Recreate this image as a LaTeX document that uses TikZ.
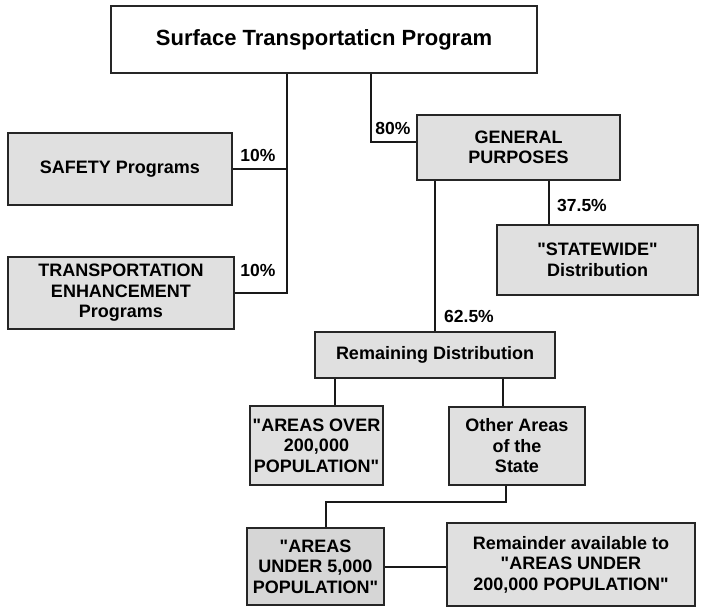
\documentclass[tikz,border=0pt]{standalone}
\usepackage{fontspec}
\setmainfont{Liberation Sans}[Ligatures=TeXOff]
\newcommand\qq{\symbol{34}}
\begin{document}
\begin{tikzpicture}[x=1pt,y=-1pt,
  box/.style={draw=black!85, line width=1.1pt, fill=gray!24, align=center, inner sep=0pt,
    font=\fontsize{18}{20.5}\selectfont\bfseries},
  pct/.style={font=\fontsize{17.5}{19}\selectfont\bfseries, inner sep=0pt},
  conn/.style={draw=black!90, line width=1.3pt}]
\useasboundingbox (0,0) rectangle (702,608);
\node[box, fill=white, minimum width=426pt, minimum height=67pt,
  font=\fontsize{22}{24}\selectfont\bfseries] (top) at (324,39.5) {Surface Transportaticn Program};
\node[box, minimum width=224pt, minimum height=72pt] (safety) at (120,169) {SAFETY Programs};
\node[box, minimum width=226pt, minimum height=72pt] (trans) at (121,293) {TRANSPORTATION\\ENHANCEMENT\\Programs};
\node[box, minimum width=203pt, minimum height=65pt] (gp) at (518.5,147.5) {GENERAL\\PURPOSES};
\node[box, minimum width=201pt, minimum height=70pt] (sw) at (597.5,260) {\qq STATEWIDE\qq\\Distribution};
\node[box, minimum width=240pt, minimum height=46pt] (rd) at (435,355) {Remaining Distribution};
\node[box, minimum width=133pt, minimum height=79pt] (ao) at (316.5,445.5) {\qq AREAS OVER\\200,000\\POPULATION\qq};
\node[box, minimum width=136pt, minimum height=78pt] (oa) at (517,446) {Other Areas\\of the\\State};
\node[box, fill=gray!32, minimum width=137pt, minimum height=77pt] (au) at (315.5,566.5) {\qq AREAS\\UNDER 5,000\\POPULATION\qq};
\node[box, minimum width=248pt, minimum height=83pt] (rem) at (571,564.5) {Remainder available to\\\qq AREAS UNDER\\200,000 POPULATION\qq};
\coordinate (tr) at (287,0);
\coordinate (c80) at (371,142);
\coordinate (c375) at (549,0);
\coordinate (cao) at (335,0);
\coordinate (coa) at (503,0);
\coordinate (cdown) at (506,502);
\coordinate (cau) at (326,0);
\draw[conn] (tr |- top.south) |- (trans.east);
\draw[conn] (safety.east) -- (safety.east -| tr);
\draw[conn] (c80 |- top.south) -- (c80) -- (c80 -| gp.west);
\draw[conn] (rd.north) -- (rd.north |- gp.south);
\draw[conn] (c375 |- gp.south) -- (c375 |- sw.north);
\draw[conn] (cao |- rd.south) -- (cao |- ao.north);
\draw[conn] (coa |- rd.south) -- (coa |- oa.north);
\draw[conn] (cdown |- oa.south) -- (cdown) -| (cau |- au.north);
\draw[conn] (au.east |- 0,567) -- (rem.west |- 0,567);
\node[pct] (p10a) at (258,155) {10\%};
\node[pct] (p10b) at (258,270) {10\%};
\node[pct] (p80) at (393,128) {80\%};
\node[pct] (p375) at (582,205) {37.5\%};
\node[pct] (p625) at (469,316) {62.5\%};
\end{tikzpicture}
\end{document}
